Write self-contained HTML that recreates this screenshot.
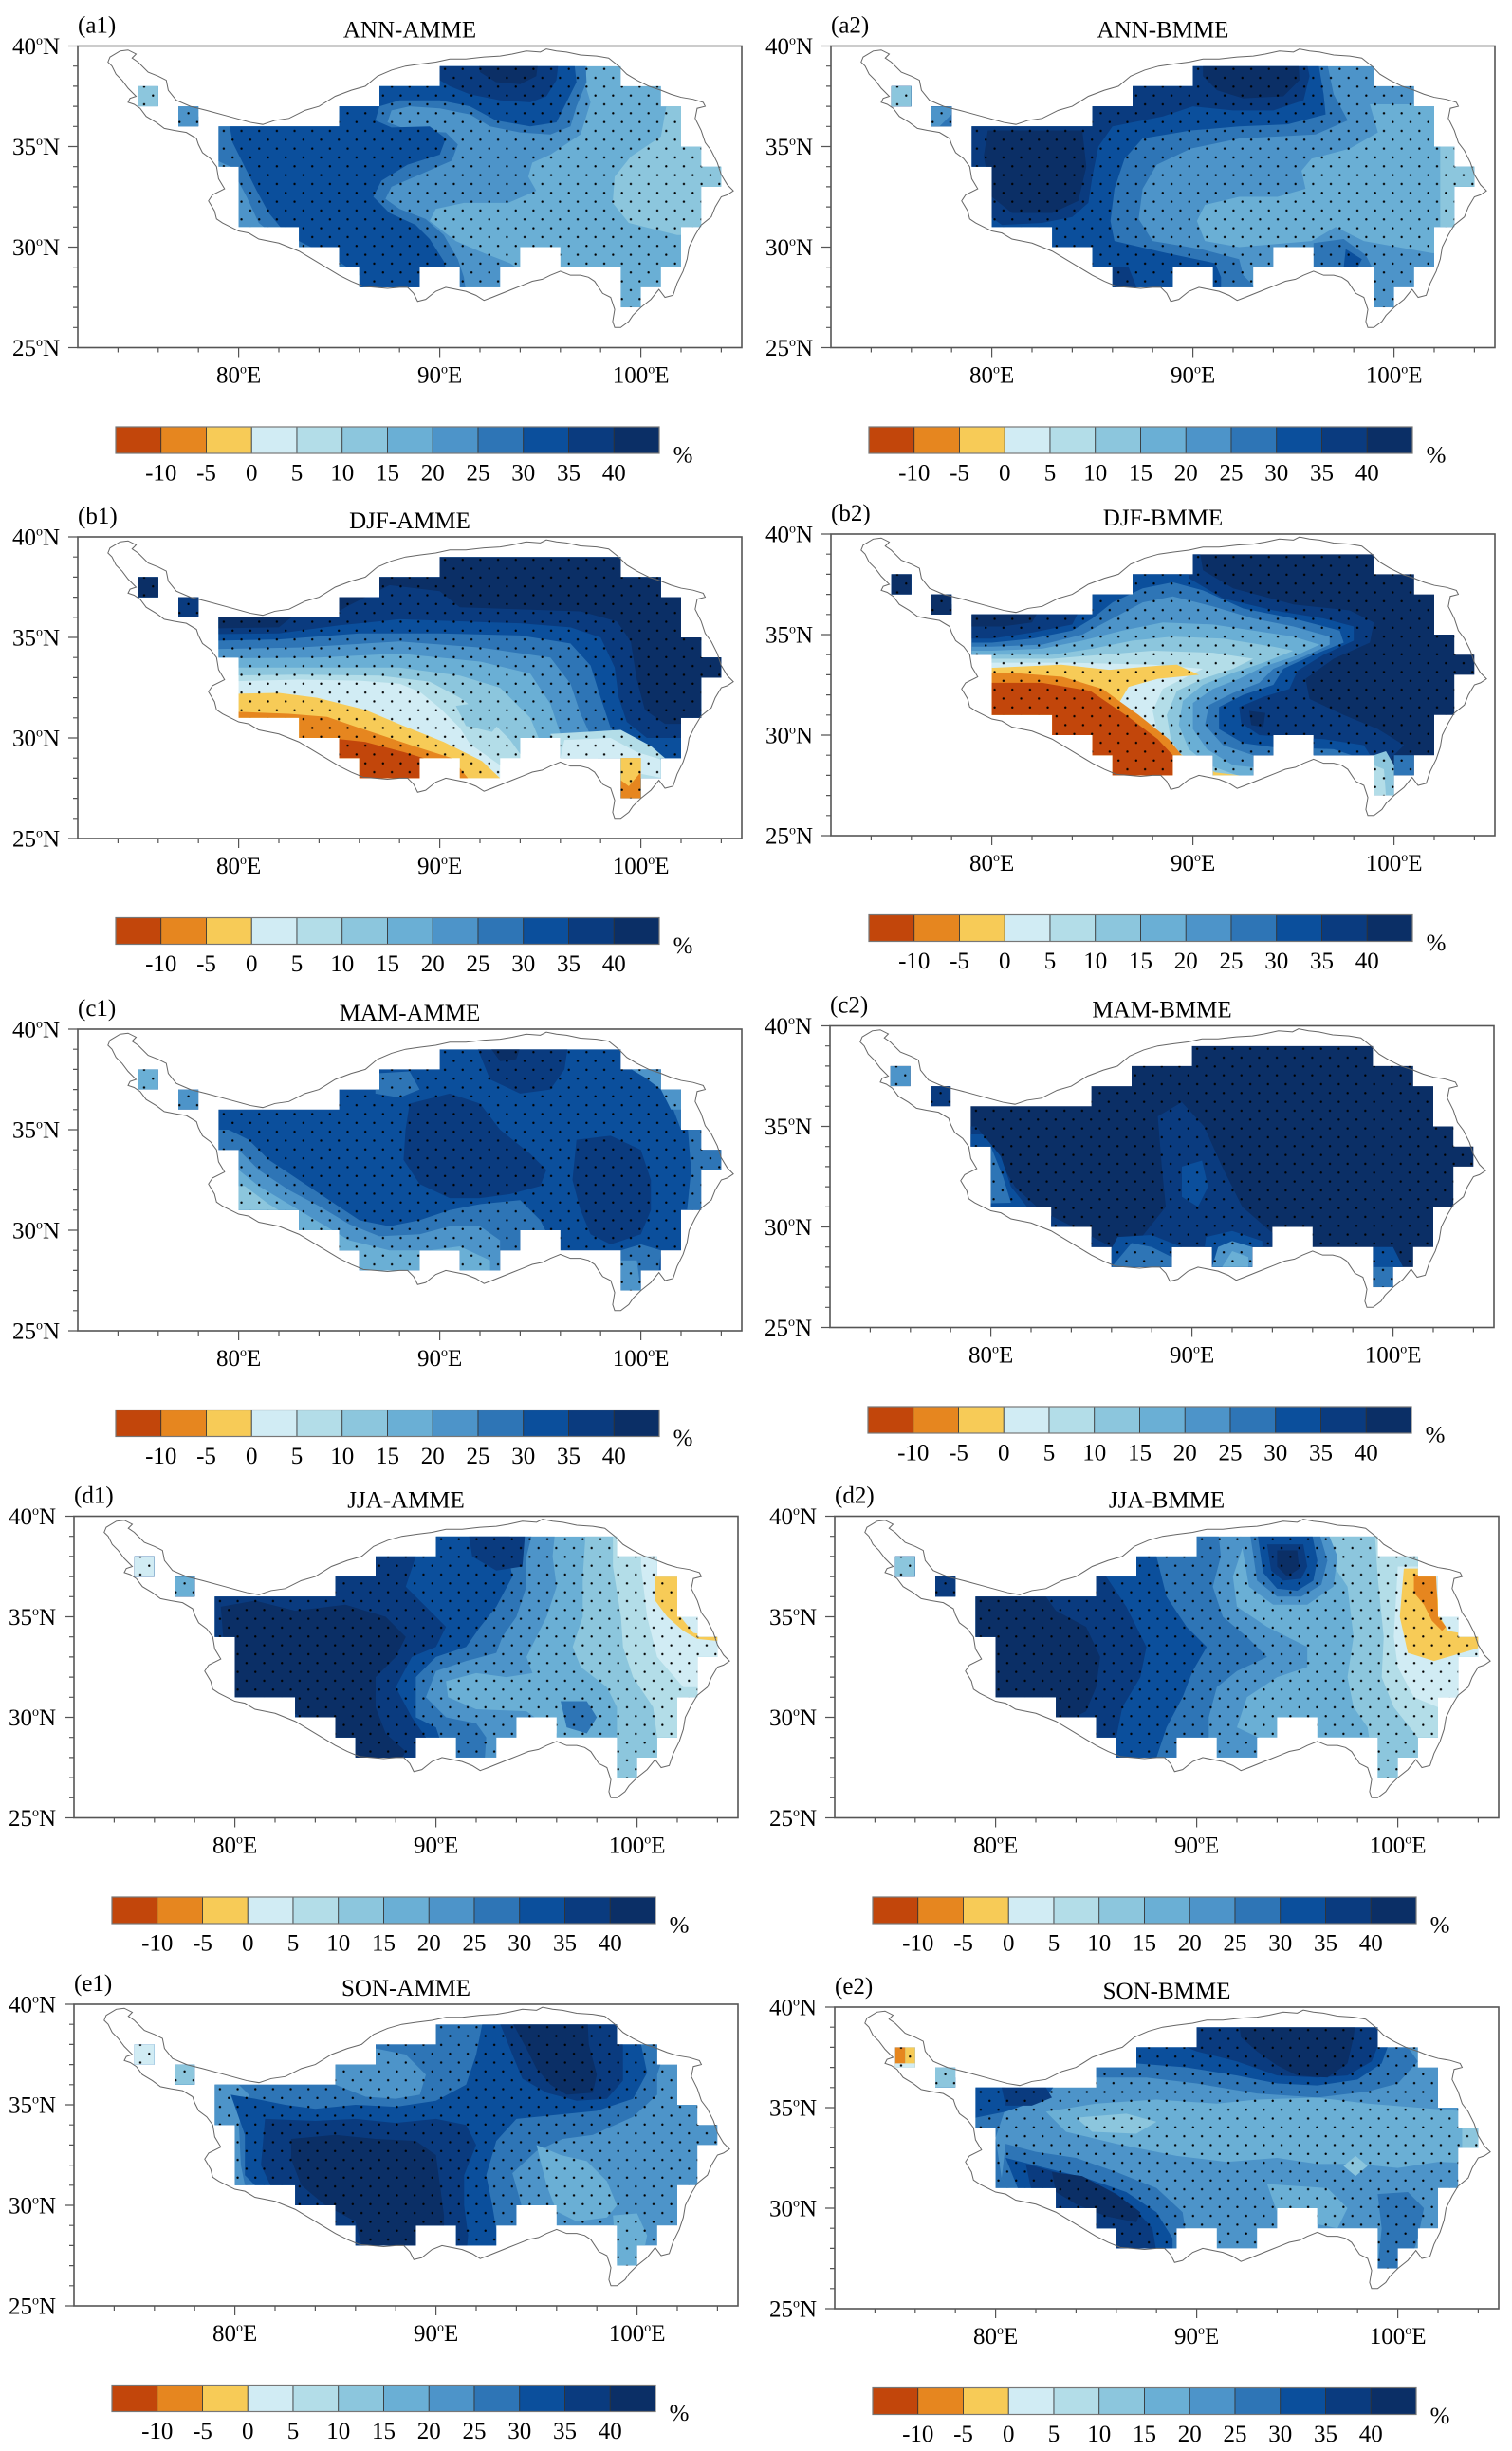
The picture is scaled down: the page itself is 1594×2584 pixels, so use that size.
<!DOCTYPE html>
<html><head><meta charset="utf-8"><title>Precipitation change maps</title><style>
html,body{margin:0;padding:0;background:#fff}
svg{display:block}
.t{font-family:"Liberation Serif","Times New Roman",serif;font-size:25px;fill:#000}
.s{font-size:14px}
.k1{fill:#c2460b}.k2{fill:#e6861f}.k3{fill:#f7cb57}.k4{fill:#d1ecf4}.k5{fill:#b3dde8}.k6{fill:#8cc6dd}.k7{fill:#6aafd5}.k8{fill:#4d94c9}.k9{fill:#2e75b6}.k10{fill:#0b4f9c}.k11{fill:#0a3b7f}.k12{fill:#0b2f66}
</style></head><body>
<svg width="1594" height="2584" viewBox="0 0 1594 2584" xmlns="http://www.w3.org/2000/svg" xmlns:xlink="http://www.w3.org/1999/xlink">
<rect width="1594" height="2584" fill="#fff"/>
<defs>
<clipPath id="m"><path d="M90,39 H99 V38 H101 V37 H102 V35 H103 V34 H104 V33 H103 V31 H102 V29 H101 V28 H100 V27 H99 V29 H96 V30 H94 V29 H93 V28 H91 V29 H89 V28 H86 V29 H85 V30 H83 V31 H80 V34 H79 V36 H85 V37 H87 V38 H90 Z M75,37 H76 V38 H75 Z M77,36 H78 V37 H77 Z"/></clipPath>
<pattern id="dots" patternUnits="userSpaceOnUse" x="72" y="25" width="0.88" height="0.88"><circle cx="0.22" cy="0.22" r="0.056" fill="#000"/><circle cx="0.66" cy="0.66" r="0.056" fill="#000"/></pattern>
<path id="ol" fill="none" stroke="#666" stroke-width="1" vector-effect="non-scaling-stroke" d="M73.6,39.45 L74.1,39.75 74.5,39.8 74.9,39.6 74.7,39.4 75.0,39.2 75.5,38.7 76.0,38.5 76.4,38.3 76.5,37.8 76.9,37.3 77.6,37.0 78.4,36.8 79.5,36.5 80.6,36.2 81.2,36.1 81.8,36.3 82.5,36.4 83.3,36.8 84.0,37.0 84.8,37.5 85.6,37.8 86.3,38.0 86.9,38.5 87.6,38.8 88.3,39.0 89.0,39.1 89.8,39.2 90.5,39.35 91.3,39.35 92.2,39.45 93.0,39.5 93.6,39.6 94.3,39.75 95.0,39.7 95.3,39.85 95.8,39.75 96.3,39.7 97.0,39.55 97.8,39.5 98.4,39.4 98.9,39.0 99.3,38.6 99.8,38.3 100.4,38.0 101.0,37.8 101.5,37.6 102.0,37.45 102.6,37.35 103.1,37.2 103.2,37.0 102.8,36.9 102.7,36.4 103.0,35.8 103.2,35.2 103.5,34.8 103.8,34.2 104.0,33.6 104.3,33.1 104.6,32.8 104.3,32.6 104.0,32.5 103.7,32.0 103.5,31.5 103.0,31.1 102.7,30.6 102.4,30.0 102.3,29.4 102.1,28.8 101.8,28.2 101.6,27.6 101.2,27.5 100.9,27.9 100.5,27.4 100.0,27.0 99.6,26.6 99.4,26.3 99.0,26.0 98.7,26.0 98.6,26.3 98.7,26.9 98.5,27.5 98.1,27.7 97.7,28.3 97.4,28.5 97.0,28.6 96.5,28.6 96.0,28.8 95.5,28.6 95.1,28.4 94.6,28.3 94.1,28.1 93.6,27.9 93.1,27.7 92.6,27.5 92.2,27.35 91.8,27.6 91.3,27.8 90.8,27.9 90.3,28.0 89.8,27.8 89.3,27.4 88.9,27.3 88.7,27.7 88.4,28.0 88.0,28.0 87.4,27.95 86.8,28.0 86.2,28.05 85.6,28.3 85.0,28.6 84.5,28.9 84.0,29.2 83.5,29.5 83.0,29.8 82.5,30.0 82.0,30.2 81.5,30.3 81.0,30.4 80.5,30.7 80.0,30.8 79.6,31.0 79.2,31.2 78.9,31.4 78.8,31.8 78.5,32.3 78.7,32.6 79.3,32.9 79.0,33.4 78.9,34.0 78.6,34.4 78.2,34.7 78.0,35.1 77.9,35.4 77.4,35.7 76.8,35.8 76.3,35.9 75.9,36.2 75.4,36.5 75.1,36.9 74.8,37.1 74.5,37.2 74.6,37.4 74.9,37.5 74.5,37.9 74.2,38.3 73.9,38.6 73.7,39.0 73.5,39.2 Z"/>
<g id="ax">
<rect x="0" y="0" width="700" height="318" fill="none" stroke="#555" stroke-width="1.6"/>
<path fill="none" stroke="#555" stroke-width="1.2" d="M-10,0H0 M-10,106H0 M-10,212H0 M-10,318H0 M-5,21.2H0 M-5,42.4H0 M-5,63.6H0 M-5,84.8H0 M-5,127.2H0 M-5,148.4H0 M-5,169.6H0 M-5,190.8H0 M-5,233.2H0 M-5,254.4H0 M-5,275.6H0 M-5,296.8H0 M169.6,318V328 M381.6,318V328 M593.6,318V328 M42.4,318V323 M84.8,318V323 M127.2,318V323 M212,318V323 M254.4,318V323 M296.8,318V323 M339.2,318V323 M424,318V323 M466.4,318V323 M508.8,318V323 M551.2,318V323 M636,318V323 M678.4,318V323"/>
<g stroke="#333" stroke-width="0.8">
<rect x="40" y="401.5" width="47.75" height="28" class="k1"/>
<rect x="87.75" y="401.5" width="47.75" height="28" class="k2"/>
<rect x="135.5" y="401.5" width="47.75" height="28" class="k3"/>
<rect x="183.25" y="401.5" width="47.75" height="28" class="k4"/>
<rect x="231" y="401.5" width="47.75" height="28" class="k5"/>
<rect x="278.75" y="401.5" width="47.75" height="28" class="k6"/>
<rect x="326.5" y="401.5" width="47.75" height="28" class="k7"/>
<rect x="374.25" y="401.5" width="47.75" height="28" class="k8"/>
<rect x="422" y="401.5" width="47.75" height="28" class="k9"/>
<rect x="469.75" y="401.5" width="47.75" height="28" class="k10"/>
<rect x="517.5" y="401.5" width="47.75" height="28" class="k11"/>
<rect x="565.25" y="401.5" width="47.75" height="28" class="k12"/>
</g>
<rect x="40" y="401.5" width="573" height="28" fill="none" stroke="#777" stroke-width="1.2"/>
</g>
</defs>

<!-- ================= a1 ================= -->
<g transform="translate(82,48.5)">
<g transform="scale(21.2,-21.2) translate(-72,-40)">
<g clip-path="url(#m)">
<rect x="72" y="25" width="33" height="15" class="k7"/>
<polygon class="k6" points="101.3,37.2 101.0,35.5 99.5,34.5 98.7,33.5 98.6,32.2 99.4,31.2 101.8,30.6 105,30.6 105,37.2"/>
<polygon class="k8" points="72,40 97.5,40 97.2,38.2 97.5,37.2 97.0,35.6 95.5,34.6 94.6,34.2 94.4,33.5 94.8,32.8 93.4,32.2 91.2,32.2 89.8,31.9 89.5,31.3 90.8,30.3 92.2,29.7 93.5,29.2 94.5,28.5 94.5,26 72,26"/>
<polygon class="k9" points="72,36.5 85,36.5 85,37.5 87,37.5 87,38.8 90,38.8 90,40 97.2,40 97.3,38.2 96.8,37.0 96.5,36.0 95.5,35.6 94.0,35.7 92.5,36.0 91.5,36.6 90,36.9 88.5,37.0 87.6,36.8 87.4,36.2 88.5,35.8 90.3,35.7 90.9,35.1 90.6,34.3 89.0,33.6 87.6,33.0 87.3,32.4 88.0,31.9 89.3,31.4 90.2,30.6 90.9,29.4 91.2,28.5 91.5,26.5 85.5,26.5 85.2,28.8 83.5,29.6 82.0,30.4 81.0,31.2 80.4,32.5 79.6,34.0 78.5,34.5 72,34.5"/>
<polygon class="k10" points="79.5,36.3 85,36.3 85,37.2 87,37.2 87,38.5 90,38.5 90,40 96.6,40 96.8,38.2 96.2,37.0 95.8,36.2 94.5,36.0 92.8,36.3 91.5,37.0 90,37.3 88,37.3 87.0,37.0 86.8,36.3 87.6,35.95 89.5,36.0 90.3,35.4 90.0,34.6 88.4,34.1 87.1,33.3 86.7,32.5 87.5,31.7 88.8,31.1 89.5,30.4 90.2,29.3 90.4,28.6 90.4,26 86.3,26 86.0,28.6 84.8,29.4 83.6,30.0 82.4,30.6 81.5,31.7 80.9,32.8 80.3,34.0 79.7,35.2"/>
<polygon class="k11" points="90,40 96,40 95.8,38.3 95.3,37.5 94.5,37.2 93,37.3 91.5,37.6 90.5,38.0 90,38.3"/>
<polygon class="k12" points="91.8,40 95,40 94.8,38.5 94,38.1 92.8,38.2 92,38.7"/>
<rect x="75" y="37" width="1" height="1" class="k6"/>
<rect x="77" y="36" width="1" height="1" class="k8"/>
<rect x="72" y="25" width="33" height="15" fill="url(#dots)"/>
</g>
<use xlink:href="#ol" href="#ol"/>
</g>
<use xlink:href="#ax" href="#ax"/>
<text class="t" x="0" y="-14">(a1)</text>
<text class="t" x="350" y="-9" text-anchor="middle">ANN-AMME</text>
<text class="t" text-anchor="end"><tspan x="-19" y="8.5">40</tspan><tspan class="s" dy="-10">o</tspan><tspan dy="10">N</tspan></text>
<text class="t" text-anchor="end"><tspan x="-19" y="114.5">35</tspan><tspan class="s" dy="-10">o</tspan><tspan dy="10">N</tspan></text>
<text class="t" text-anchor="end"><tspan x="-19" y="220.5">30</tspan><tspan class="s" dy="-10">o</tspan><tspan dy="10">N</tspan></text>
<text class="t" text-anchor="end"><tspan x="-19" y="326.5">25</tspan><tspan class="s" dy="-10">o</tspan><tspan dy="10">N</tspan></text>
<text class="t" text-anchor="middle"><tspan x="169.6" y="355">80</tspan><tspan class="s" dy="-10">o</tspan><tspan dy="10">E</tspan></text>
<text class="t" text-anchor="middle"><tspan x="381.6" y="355">90</tspan><tspan class="s" dy="-10">o</tspan><tspan dy="10">E</tspan></text>
<text class="t" text-anchor="middle"><tspan x="593.6" y="355">100</tspan><tspan class="s" dy="-10">o</tspan><tspan dy="10">E</tspan></text>
<text class="t" y="458" text-anchor="middle"><tspan x="87.75">-10</tspan><tspan x="135.5">-5</tspan><tspan x="183.25">0</tspan><tspan x="231">5</tspan><tspan x="278.75">10</tspan><tspan x="326.5">15</tspan><tspan x="374.25">20</tspan><tspan x="422">25</tspan><tspan x="469.75">30</tspan><tspan x="517.5">35</tspan><tspan x="565.25">40</tspan></text>
<text class="t" x="638" y="439" text-anchor="middle">%</text>
</g>

<!-- ================= a2 ================= -->
<g transform="translate(876,48.5)">
<g transform="scale(21.2,-21.2) translate(-72,-40)">
<g clip-path="url(#m)">
<rect x="72" y="25" width="33" height="15" class="k8"/>
<polygon class="k7" points="98.8,37.1 99.2,35.7 97.8,34.9 95.9,34.4 95.4,33.8 95.6,32.9 94.2,32.5 92.3,32.5 90.6,32.1 90.2,31.3 90.6,30.3 92.3,30.0 95.9,30.3 97.1,31.0 98.5,30.3 101.9,29.7 105,29.7 105,37.1"/>
<polygon class="k6" points="102.3,35.5 102.3,31 105,31 105,35.5"/>
<polygon class="k9" points="96,30.2 97.5,30.4 98.6,29.6 98.9,29 96,29"/>
<polygon class="k10" points="97.6,29.9 98.4,29.4 98.2,29 97.5,29"/>
<polygon class="k9" points="72,40 96.5,40 97.0,37.6 97.7,36.3 96.1,35.6 92.3,35.4 89.9,34.9 88.2,34.1 87.5,32.9 87.3,31.4 88.0,30.3 90.4,29.9 92.3,29.4 92.5,28.6 93.3,27.8 93.3,26 72,26"/>
<polygon class="k10" points="72,40 96.1,40 96.5,37.6 96.6,36.6 94.7,36.1 92.3,36.0 89.9,35.8 87.5,35.4 86.6,34.4 86.1,32.9 85.9,31.3 86.1,30.3 88.7,29.7 91.1,29.2 91.4,28.5 91.4,26 72,26"/>
<polygon class="k11" points="72,40 95.5,40 95.8,38.5 95.5,37.3 94,36.8 92,36.8 90,37.0 88.5,36.5 86,36.0 85.3,35.0 85.0,33.5 84.8,32.2 84.0,31.5 82.5,31.2 80.5,31.1 79.8,31.6 72,31.6"/>
<polygon class="k11" points="86,28 86,29 86.8,29 87.2,28"/>
<polygon class="k12" points="79.8,35.8 84.5,35.8 84.7,34 84.3,32.3 83,31.7 81,31.7 80,32.5 79.6,34.5"/>
<polygon class="k12" points="90.5,40 95.2,40 95.3,38.3 94.5,37.5 92.5,37.4 91.2,37.8 90.5,38.5"/>
<rect x="75" y="37" width="1" height="1" class="k6"/>
<rect x="77" y="36" width="1" height="1" class="k8"/>
<polygon class="k9" points="78,36 78,36.6 77.4,36"/>
<rect x="72" y="25" width="33" height="15" fill="url(#dots)"/>
</g>
<use xlink:href="#ol" href="#ol"/>
</g>
<use xlink:href="#ax" href="#ax"/>
<text class="t" x="0" y="-14">(a2)</text>
<text class="t" x="350" y="-9" text-anchor="middle">ANN-BMME</text>
<text class="t" text-anchor="end"><tspan x="-19" y="8.5">40</tspan><tspan class="s" dy="-10">o</tspan><tspan dy="10">N</tspan></text>
<text class="t" text-anchor="end"><tspan x="-19" y="114.5">35</tspan><tspan class="s" dy="-10">o</tspan><tspan dy="10">N</tspan></text>
<text class="t" text-anchor="end"><tspan x="-19" y="220.5">30</tspan><tspan class="s" dy="-10">o</tspan><tspan dy="10">N</tspan></text>
<text class="t" text-anchor="end"><tspan x="-19" y="326.5">25</tspan><tspan class="s" dy="-10">o</tspan><tspan dy="10">N</tspan></text>
<text class="t" text-anchor="middle"><tspan x="169.6" y="355">80</tspan><tspan class="s" dy="-10">o</tspan><tspan dy="10">E</tspan></text>
<text class="t" text-anchor="middle"><tspan x="381.6" y="355">90</tspan><tspan class="s" dy="-10">o</tspan><tspan dy="10">E</tspan></text>
<text class="t" text-anchor="middle"><tspan x="593.6" y="355">100</tspan><tspan class="s" dy="-10">o</tspan><tspan dy="10">E</tspan></text>
<text class="t" y="458" text-anchor="middle"><tspan x="87.75">-10</tspan><tspan x="135.5">-5</tspan><tspan x="183.25">0</tspan><tspan x="231">5</tspan><tspan x="278.75">10</tspan><tspan x="326.5">15</tspan><tspan x="374.25">20</tspan><tspan x="422">25</tspan><tspan x="469.75">30</tspan><tspan x="517.5">35</tspan><tspan x="565.25">40</tspan></text>
<text class="t" x="638" y="439" text-anchor="middle">%</text>
</g>

<!-- ================= b1 ================= -->
<g transform="translate(82,566)">
<g transform="scale(21.2,-21.2) translate(-72,-40)">
<g clip-path="url(#m)">
<rect x="72" y="25" width="33" height="15" class="k4"/>
<polygon class="k5" points="72,32.8 79,32.8 83,32.9 86,32.85 88,32.7 89,32.3 90,31.5 91,30.5 91.5,29.7 92.5,29 93.5,28.3 94.5,26 105,26 105,40 72,40"/>
<polygon class="k6" points="72,33.1 79,33.1 83,33.15 87,33.1 89.5,32.8 91,32.0 92.5,30.9 93.5,29.9 94.5,28.5 95,26 105,26 105,40 72,40"/>
<polygon class="k7" points="72,33.5 84,33.5 88,33.5 91,33.1 93,32.5 94.5,31 95,29.8 96,26 105,26 105,40 72,40"/>
<polygon class="k8" points="72,33.9 84,34.0 88,34.2 92,33.8 94.5,33.2 95.5,31.7 96,30.2 96.5,26 105,26 105,40 72,40"/>
<polygon class="k9" points="72,34.3 83,34.5 88,34.8 92,34.5 95.5,34.0 96.5,32.7 97,31.2 97.7,29.7 98.5,26 105,26 105,40 72,40"/>
<polygon class="k10" points="72,34.7 82,34.9 86,35.2 90,35.2 94,35.1 96.5,34.7 97.5,33.6 98,32 98.5,30.5 99.6,29.3 99.6,26 105,26 105,40 72,40"/>
<polygon class="k11" points="72,35.1 82,35.2 85,35.6 88,35.9 91,35.8 94,35.7 96.5,35.5 98,35 98.7,33.5 98.9,32 99.3,30.8 100.3,30.0 105,30 105,40 72,40"/>
<polygon class="k12" points="72,36.2 84.8,36.2 85.5,36.6 87.5,37.6 90,37.3 91,36.5 94,36.4 97,36.3 98.8,35.8 99.5,34.8 99.8,32.9 100.2,31.4 101.2,30.7 105,30.7 105,40 72,40"/>
<polygon class="k12" points="78.5,36.3 83,36.3 82,35.5 78.5,35.45"/>
<polygon class="k6" points="90.8,31.6 92.2,31.8 93.2,31.0 92.6,30.3 91.3,30.6"/>
<polygon class="k5" points="95.5,30.2 99,30.4 100.5,29.6 101.2,29 101.2,27.8 99,28 96,29"/>
<polygon class="k4" points="96.2,29.9 98.5,30 99.8,29.3 101.1,28.9 101.1,28 96,29"/>
<polygon class="k3" points="72,32.2 80,32.2 82,32.24 83.9,32.0 86.3,31.4 88.2,30.6 90.2,29.8 92.1,28.85 93.0,28 93,26 72,26"/>
<polygon class="k2" points="72,31.3 80,31.3 82.5,31.2 84.4,31.05 86.3,30.4 88.7,29.6 90.6,29.0 91.4,28.0 91.4,26 72,26"/>
<polygon class="k1" points="72,30.05 84.9,29.95 86.3,29.8 88.2,29.3 89.2,29 89.2,26 72,26"/>
<rect x="99" y="27" width="1" height="2" class="k2"/>
<polygon class="k3" points="99,29 100,29 100,28.3 99.4,27.6 99,27.9"/>
<rect x="75" y="37" width="1" height="1" class="k12"/>
<rect x="77" y="36" width="1" height="1" class="k11"/>
<rect x="72" y="25" width="33" height="15" fill="url(#dots)"/>
</g>
<use xlink:href="#ol" href="#ol"/>
</g>
<use xlink:href="#ax" href="#ax"/>
<text class="t" x="0" y="-14">(b1)</text>
<text class="t" x="350" y="-9" text-anchor="middle">DJF-AMME</text>
<text class="t" text-anchor="end"><tspan x="-19" y="8.5">40</tspan><tspan class="s" dy="-10">o</tspan><tspan dy="10">N</tspan></text>
<text class="t" text-anchor="end"><tspan x="-19" y="114.5">35</tspan><tspan class="s" dy="-10">o</tspan><tspan dy="10">N</tspan></text>
<text class="t" text-anchor="end"><tspan x="-19" y="220.5">30</tspan><tspan class="s" dy="-10">o</tspan><tspan dy="10">N</tspan></text>
<text class="t" text-anchor="end"><tspan x="-19" y="326.5">25</tspan><tspan class="s" dy="-10">o</tspan><tspan dy="10">N</tspan></text>
<text class="t" text-anchor="middle"><tspan x="169.6" y="355">80</tspan><tspan class="s" dy="-10">o</tspan><tspan dy="10">E</tspan></text>
<text class="t" text-anchor="middle"><tspan x="381.6" y="355">90</tspan><tspan class="s" dy="-10">o</tspan><tspan dy="10">E</tspan></text>
<text class="t" text-anchor="middle"><tspan x="593.6" y="355">100</tspan><tspan class="s" dy="-10">o</tspan><tspan dy="10">E</tspan></text>
<text class="t" y="458" text-anchor="middle"><tspan x="87.75">-10</tspan><tspan x="135.5">-5</tspan><tspan x="183.25">0</tspan><tspan x="231">5</tspan><tspan x="278.75">10</tspan><tspan x="326.5">15</tspan><tspan x="374.25">20</tspan><tspan x="422">25</tspan><tspan x="469.75">30</tspan><tspan x="517.5">35</tspan><tspan x="565.25">40</tspan></text>
<text class="t" x="638" y="439" text-anchor="middle">%</text>
</g>

<!-- ================= b2 ================= -->
<g transform="translate(876,563)">
<g transform="scale(21.2,-21.2) translate(-72,-40)">
<g clip-path="url(#m)">
<rect x="72" y="25" width="33" height="15" class="k12"/>
<polygon class="k11" points="72,40 72,26 99.5,26 99.5,28.5 100.5,29.5 99.2,30.3 97.5,31.0 95.8,31.8 95.6,32.8 97,33.8 98.8,34.6 99,35.6 97.8,36.2 95,36.5 92,37.3 90.5,38.2 90.2,40"/>
<polygon class="k10" points="72,40 72,26 99,26 99,28.7 98.5,29.5 96.5,29.8 94.8,29.9 93.3,30.0 92.4,30.6 92.3,31.4 93.5,31.9 94.8,32.3 95.2,33.2 96.5,34 98,34.7 98,35.4 96.5,35.8 94,36.2 91.5,36.8 89.8,37.8 89.5,40"/>
<polygon class="k12" points="92.8,31.2 93.6,31.1 93.5,30.4 92.9,30.5"/>
<polygon class="k9" points="72,34.6 80,34.6 82,34.8 84,35.2 85,35.8 86,36.6 87.5,37.3 89,37.6 90.5,37.2 92.5,36.3 95,35.8 97.3,35.2 97.5,34.6 96,34 94.5,33.3 94,32.5 92.5,32.0 91.3,31.4 91.3,30.3 92.5,29.6 94,29.4 97,29.3 98.5,28.8 98.8,26 72,26"/>
<polygon class="k8" points="72,34.4 80,34.4 82.5,34.5 84.5,35.0 86,35.8 87.5,36.6 89,36.9 91,36.4 93,35.8 95,35.4 96.8,34.9 96.8,34.5 95.5,33.9 94,33.3 93.3,32.6 92,32.1 90.8,31.5 90.6,30.5 91.5,29.5 93,29.0 95,28.9 98,28.5 98.3,26 72,26"/>
<polygon class="k7" points="72,34.2 80,34.2 82.5,34.3 84.5,34.7 86.5,35.2 88.5,35.6 91,35.5 93,35.2 95,34.9 96.3,34.5 95,33.9 93.5,33.4 92.3,32.8 91,32.3 90,31.6 90,30.3 90.7,29.3 92,28.5 94,28.3 98,28 98,26 72,26"/>
<polygon class="k6" points="72,34.0 83,34.0 85,34.3 87,34.7 89,34.9 91.5,34.8 94,34.4 95,34.2 93.5,33.6 92,33.1 90.5,32.5 89.5,31.7 89.3,30.5 89.8,29.3 90.8,28.5 92.5,27.9 97.8,27.5 97.8,26 72,26"/>
<polygon class="k5" points="72,33.8 83,33.8 85.5,34.0 88,34.2 91,34.1 93,33.8 92,33.3 90.5,32.8 89.2,32.2 88.7,31 88.9,29.8 89.5,28.8 90.8,28.1 91.5,26 72,26"/>
<polygon class="k4" points="72,33.6 84,33.6 88,33.5 90.5,33.3 89.5,32.8 88.5,32.3 88,31.2 88.3,29.8 89,28.6 90,28 90.5,26 72,26"/>
<polygon class="k3" points="72,33.35 80.1,33.35 83.45,33.5 85.85,33.25 88.25,33.45 89.2,33.5 90.3,33.0 88.25,32.8 86.8,32.4 86.3,31.55 87.3,30.45 88.7,29.34 90.2,28.7 91.1,28.15 92.3,28.0 92.3,26 72,26"/>
<polygon class="k2" points="72,33.1 81,33.1 83.5,32.9 85.5,32.3 87.3,31.0 88.8,29.8 89.6,28.8 89.8,26 72,26"/>
<polygon class="k1" points="72,32.6 82.5,32.6 84.9,32.2 86.8,30.9 88.25,29.8 89,29.0 89,26 72,26"/>
<polygon class="k11" points="72,36.5 84.5,36.5 84,35.5 82,35.1 80,34.8 72,34.8"/>
<polygon class="k12" points="72,36.5 82.5,36.5 82,35.6 80.5,35.4 72,35.4"/>
<rect x="100" y="28" width="1" height="1" class="k9"/>
<polygon class="k6" points="99,29 99.6,29.2 100,28.5 100,27 99,27"/>
<polygon class="k5" points="99,28.5 99.5,28.3 99.6,27 99,27"/>
<rect x="75" y="37" width="1" height="1" class="k12"/>
<rect x="77" y="36" width="1" height="1" class="k12"/>
<rect x="72" y="25" width="33" height="15" fill="url(#dots)"/>
</g>
<use xlink:href="#ol" href="#ol"/>
</g>
<use xlink:href="#ax" href="#ax"/>
<text class="t" x="0" y="-14">(b2)</text>
<text class="t" x="350" y="-9" text-anchor="middle">DJF-BMME</text>
<text class="t" text-anchor="end"><tspan x="-19" y="8.5">40</tspan><tspan class="s" dy="-10">o</tspan><tspan dy="10">N</tspan></text>
<text class="t" text-anchor="end"><tspan x="-19" y="114.5">35</tspan><tspan class="s" dy="-10">o</tspan><tspan dy="10">N</tspan></text>
<text class="t" text-anchor="end"><tspan x="-19" y="220.5">30</tspan><tspan class="s" dy="-10">o</tspan><tspan dy="10">N</tspan></text>
<text class="t" text-anchor="end"><tspan x="-19" y="326.5">25</tspan><tspan class="s" dy="-10">o</tspan><tspan dy="10">N</tspan></text>
<text class="t" text-anchor="middle"><tspan x="169.6" y="355">80</tspan><tspan class="s" dy="-10">o</tspan><tspan dy="10">E</tspan></text>
<text class="t" text-anchor="middle"><tspan x="381.6" y="355">90</tspan><tspan class="s" dy="-10">o</tspan><tspan dy="10">E</tspan></text>
<text class="t" text-anchor="middle"><tspan x="593.6" y="355">100</tspan><tspan class="s" dy="-10">o</tspan><tspan dy="10">E</tspan></text>
<text class="t" y="458" text-anchor="middle"><tspan x="87.75">-10</tspan><tspan x="135.5">-5</tspan><tspan x="183.25">0</tspan><tspan x="231">5</tspan><tspan x="278.75">10</tspan><tspan x="326.5">15</tspan><tspan x="374.25">20</tspan><tspan x="422">25</tspan><tspan x="469.75">30</tspan><tspan x="517.5">35</tspan><tspan x="565.25">40</tspan></text>
<text class="t" x="638" y="439" text-anchor="middle">%</text>
</g>

<!-- ================= c1 ================= -->
<g transform="translate(82,1085)">
<g transform="scale(21.2,-21.2) translate(-72,-40)">
<g clip-path="url(#m)">
<rect x="72" y="25" width="33" height="15" class="k10"/>
<polygon class="k9" points="72,35 79.5,35 80.5,34.5 81.5,33.5 83,32.5 84.5,31.5 86,30.5 87.5,30.2 89,30.5 90.5,31 92,31.3 94,31.5 95,30.5 95.5,29.5 95.5,26 72,26"/>
<polygon class="k8" points="72,34 80,34 81,33 82.5,32 84,31.2 85.5,30.3 87,29.7 89,29.8 90.5,30.2 92,30.2 93,29.5 93,26 72,26"/>
<polygon class="k7" points="72,33 80,33 81,32.2 82.5,31.3 84,30.4 85.5,29.5 87.5,29 89.5,29 91,29.2 92.5,28.5 92.5,26 72,26"/>
<polygon class="k6" points="72,32.2 80.3,32.2 81.5,31.3 82.3,30.8 82.3,26 72,26"/>
<polygon class="k9" points="101.3,38 101.5,36.5 102.3,35.5 102.5,33 102.3,31 105,31 105,38"/>
<polygon class="k9" points="96.8,40 99.5,40 99.8,38 101,37.5 101.5,36.3 102,35 105,35 105,40"/>
<polygon class="k8" points="98.8,40 99.2,38.2 100.2,37.6 101,37 101.5,36 105,36 105,40"/>
<polygon class="k9" points="86.8,37.8 88.5,37.9 89,37 88,36.6 86.8,36.8"/>
<polygon class="k9" points="99,29 100,29.3 101,29 100.8,27 99,27"/>
<polygon class="k8" points="99,28.5 99.8,28.5 100,27 99,27"/>
<polygon class="k11" points="88.5,36.3 90.5,36.8 92,36.3 93,35 94.5,33.8 95.3,33 95,32.2 93.5,31.8 92,31.6 90.5,31.6 89,32.3 88.2,33.5 88.3,35"/>
<polygon class="k11" points="96.8,34.5 98.5,34.7 100,34 100.5,32.5 100.5,31 100,29.8 98.5,29.3 97.5,29.8 97,31 96.6,32.5"/>
<polygon class="k11" points="91.5,40 96.5,40 96.2,38 95.5,37 94,36.8 92.5,37.5"/>
<polygon class="k12" points="92.5,39.1 94,39.1 93.8,38.5 93,38.4"/>
<rect x="75" y="37" width="1" height="1" class="k7"/>
<rect x="77" y="36" width="1" height="1" class="k8"/>
<rect x="72" y="25" width="33" height="15" fill="url(#dots)"/>
</g>
<use xlink:href="#ol" href="#ol"/>
</g>
<use xlink:href="#ax" href="#ax"/>
<text class="t" x="0" y="-14">(c1)</text>
<text class="t" x="350" y="-9" text-anchor="middle">MAM-AMME</text>
<text class="t" text-anchor="end"><tspan x="-19" y="8.5">40</tspan><tspan class="s" dy="-10">o</tspan><tspan dy="10">N</tspan></text>
<text class="t" text-anchor="end"><tspan x="-19" y="114.5">35</tspan><tspan class="s" dy="-10">o</tspan><tspan dy="10">N</tspan></text>
<text class="t" text-anchor="end"><tspan x="-19" y="220.5">30</tspan><tspan class="s" dy="-10">o</tspan><tspan dy="10">N</tspan></text>
<text class="t" text-anchor="end"><tspan x="-19" y="326.5">25</tspan><tspan class="s" dy="-10">o</tspan><tspan dy="10">N</tspan></text>
<text class="t" text-anchor="middle"><tspan x="169.6" y="355">80</tspan><tspan class="s" dy="-10">o</tspan><tspan dy="10">E</tspan></text>
<text class="t" text-anchor="middle"><tspan x="381.6" y="355">90</tspan><tspan class="s" dy="-10">o</tspan><tspan dy="10">E</tspan></text>
<text class="t" text-anchor="middle"><tspan x="593.6" y="355">100</tspan><tspan class="s" dy="-10">o</tspan><tspan dy="10">E</tspan></text>
<text class="t" y="458" text-anchor="middle"><tspan x="87.75">-10</tspan><tspan x="135.5">-5</tspan><tspan x="183.25">0</tspan><tspan x="231">5</tspan><tspan x="278.75">10</tspan><tspan x="326.5">15</tspan><tspan x="374.25">20</tspan><tspan x="422">25</tspan><tspan x="469.75">30</tspan><tspan x="517.5">35</tspan><tspan x="565.25">40</tspan></text>
<text class="t" x="638" y="439" text-anchor="middle">%</text>
</g>

<!-- ================= c2 ================= -->
<g transform="translate(875,1081.5)">
<g transform="scale(21.2,-21.2) translate(-72,-40)">
<g clip-path="url(#m)">
<rect x="72" y="25" width="33" height="15" class="k12"/>
<polygon class="k11" points="72,35 79.3,35 80.3,33.5 81.2,32 82.5,30.8 84.5,29.8 86,29 87,28 87,26 72,26"/>
<polygon class="k11" points="88.3,35.5 89.5,36.2 90.6,35 91.5,33 92.5,31 94,29.7 94,26 86,26 87.5,29.5 88.7,31 88.5,33"/>
<polygon class="k10" points="72,34.6 79.6,34.6 80.5,33.5 81,32 81.8,31 83,30.2 83,26 72,26"/>
<polygon class="k9" points="72,34 80,34 80.6,32.5 81,31.2 72,31"/>
<polygon class="k10" points="89.5,33 90.5,33.3 90.8,32 90.3,31 89.5,31.5"/>
<polygon class="k10" points="85.5,28 86.3,29.5 88,29.6 89.5,29 89.5,28"/>
<polygon class="k9" points="86,28 87,29.2 88,29 89,28.5 89,28"/>
<polygon class="k10" points="90.5,28 90.7,29.5 92,29.8 93.5,29.3 93.5,28"/>
<polygon class="k8" points="91,28 91.3,29 92,29.3 93,29 93,28"/>
<polygon class="k7" points="91.5,28 92,28.8 92.8,28.5 92.8,28"/>
<polygon class="k10" points="99,27 99,29 100,29 100.5,28 100,27"/>
<polygon class="k9" points="99,27 99,28 100,28 100,27"/>
<rect x="75" y="37" width="1" height="1" class="k8"/>
<rect x="77" y="36" width="1" height="1" class="k11"/>
<rect x="72" y="25" width="33" height="15" fill="url(#dots)"/>
</g>
<use xlink:href="#ol" href="#ol"/>
</g>
<use xlink:href="#ax" href="#ax"/>
<text class="t" x="0" y="-14">(c2)</text>
<text class="t" x="350" y="-9" text-anchor="middle">MAM-BMME</text>
<text class="t" text-anchor="end"><tspan x="-19" y="8.5">40</tspan><tspan class="s" dy="-10">o</tspan><tspan dy="10">N</tspan></text>
<text class="t" text-anchor="end"><tspan x="-19" y="114.5">35</tspan><tspan class="s" dy="-10">o</tspan><tspan dy="10">N</tspan></text>
<text class="t" text-anchor="end"><tspan x="-19" y="220.5">30</tspan><tspan class="s" dy="-10">o</tspan><tspan dy="10">N</tspan></text>
<text class="t" text-anchor="end"><tspan x="-19" y="326.5">25</tspan><tspan class="s" dy="-10">o</tspan><tspan dy="10">N</tspan></text>
<text class="t" text-anchor="middle"><tspan x="169.6" y="355">80</tspan><tspan class="s" dy="-10">o</tspan><tspan dy="10">E</tspan></text>
<text class="t" text-anchor="middle"><tspan x="381.6" y="355">90</tspan><tspan class="s" dy="-10">o</tspan><tspan dy="10">E</tspan></text>
<text class="t" text-anchor="middle"><tspan x="593.6" y="355">100</tspan><tspan class="s" dy="-10">o</tspan><tspan dy="10">E</tspan></text>
<text class="t" y="458" text-anchor="middle"><tspan x="87.75">-10</tspan><tspan x="135.5">-5</tspan><tspan x="183.25">0</tspan><tspan x="231">5</tspan><tspan x="278.75">10</tspan><tspan x="326.5">15</tspan><tspan x="374.25">20</tspan><tspan x="422">25</tspan><tspan x="469.75">30</tspan><tspan x="517.5">35</tspan><tspan x="565.25">40</tspan></text>
<text class="t" x="638" y="439" text-anchor="middle">%</text>
</g>

<!-- ================= d1 ================= -->
<g transform="translate(78,1598.5)">
<g transform="scale(21.2,-21.2) translate(-72,-40)">
<g clip-path="url(#m)">
<rect x="72" y="25" width="33" height="15" class="k7"/>
<polygon class="k6" points="97.5,40 97.3,37 97.3,35 96.8,33.5 97.2,32.5 98.5,31.5 99,30.5 99,26 105,26 105,40"/>
<polygon class="k5" points="98.8,40 98.8,37.5 99.2,35 99.3,33.5 99.8,32 100.8,30.5 101,29 105,29 105,40"/>
<polygon class="k4" points="100.2,40 100.2,37.5 100.5,35 101,33 102.3,31.5 105,31.5 105,40"/>
<polygon class="k3" points="100.9,37 102,37 102,35.2 102.8,34.2 104,34 104,33.8 103,33.9 102.3,34.3 101.5,35.0 100.9,35.8"/>
<polygon class="k8" points="72,40 96,40 95.8,38 96,36.5 95.5,35 95,34 94.5,33 94.8,32.2 93.5,32 92,32.2 90.5,31.8 90.6,31 92,30.4 94.5,30.3 96,29.2 96,28.5 95,26 72,26"/>
<polygon class="k9" points="96.2,30.8 97.5,30.8 98,30 97.5,29.2 96.5,29.5"/>
<polygon class="k9" points="72,40 95,40 94.5,38 94.5,36.5 94,35 93.3,34 93,33.2 91.5,32.8 90,32.3 89.5,31 90.5,30 92,29.7 92.5,29 92.3,26 72,26"/>
<polygon class="k10" points="72,40 94,40 93.5,38.5 93.8,37 93,35.5 92.2,34.5 91.5,33.5 90,33 89,32 89,30 90,29.5 90.5,28 90.5,26 72,26"/>
<polygon class="k11" points="72,40 89.5,40 89,38 88.5,36.5 89.5,35.5 90.5,34.5 90,33.5 88.8,33 88,31.5 88.8,30 89.5,29 89.5,26 72,26"/>
<polygon class="k11" points="91.5,40 94.5,40 94.3,37.5 93,37.3 91.8,38"/>
<polygon class="k12" points="79.3,35.5 81,35.8 83,35.3 85.5,35.6 87.5,35 88.5,34 88,33 87,32 87,30.5 87.5,29.2 88.5,28.3 88,27.5 86,27.5 85,29 83.5,30 82,30.5 80,31 79.5,33"/>
<rect x="75" y="37" width="1" height="1" class="k4"/>
<rect x="77" y="36" width="1" height="1" class="k7"/>
<rect x="72" y="25" width="33" height="15" fill="url(#dots)"/>
</g>
<use xlink:href="#ol" href="#ol"/>
</g>
<use xlink:href="#ax" href="#ax"/>
<text class="t" x="0" y="-14">(d1)</text>
<text class="t" x="350" y="-9" text-anchor="middle">JJA-AMME</text>
<text class="t" text-anchor="end"><tspan x="-19" y="8.5">40</tspan><tspan class="s" dy="-10">o</tspan><tspan dy="10">N</tspan></text>
<text class="t" text-anchor="end"><tspan x="-19" y="114.5">35</tspan><tspan class="s" dy="-10">o</tspan><tspan dy="10">N</tspan></text>
<text class="t" text-anchor="end"><tspan x="-19" y="220.5">30</tspan><tspan class="s" dy="-10">o</tspan><tspan dy="10">N</tspan></text>
<text class="t" text-anchor="end"><tspan x="-19" y="326.5">25</tspan><tspan class="s" dy="-10">o</tspan><tspan dy="10">N</tspan></text>
<text class="t" text-anchor="middle"><tspan x="169.6" y="355">80</tspan><tspan class="s" dy="-10">o</tspan><tspan dy="10">E</tspan></text>
<text class="t" text-anchor="middle"><tspan x="381.6" y="355">90</tspan><tspan class="s" dy="-10">o</tspan><tspan dy="10">E</tspan></text>
<text class="t" text-anchor="middle"><tspan x="593.6" y="355">100</tspan><tspan class="s" dy="-10">o</tspan><tspan dy="10">E</tspan></text>
<text class="t" y="458" text-anchor="middle"><tspan x="87.75">-10</tspan><tspan x="135.5">-5</tspan><tspan x="183.25">0</tspan><tspan x="231">5</tspan><tspan x="278.75">10</tspan><tspan x="326.5">15</tspan><tspan x="374.25">20</tspan><tspan x="422">25</tspan><tspan x="469.75">30</tspan><tspan x="517.5">35</tspan><tspan x="565.25">40</tspan></text>
<text class="t" x="638" y="439" text-anchor="middle">%</text>
</g>

<!-- ================= d2 ================= -->
<g transform="translate(880,1598.5)">
<g transform="scale(21.2,-21.2) translate(-72,-40)">
<g clip-path="url(#m)">
<rect x="72" y="25" width="33" height="15" class="k7"/>
<polygon class="k6" points="96.5,40 96.5,38 97.5,36.5 97.8,34 97.5,32 97.8,30.5 98.5,29.5 99,26 105,26 105,40"/>
<polygon class="k5" points="98.8,40 99,37 99.3,34 99.2,32 99.8,30.5 101,29 105,29 105,40"/>
<polygon class="k4" points="100,37.5 99.8,34 100,32.5 100.8,31 102,30.5 105,30.5 105,37.5"/>
<polygon class="k3" points="100.3,37.4 101.8,37.4 102.1,35 102.5,34.3 104.2,34 104.2,33.5 101.8,32.8 100.5,33.2 100.1,35"/>
<polygon class="k2" points="100.8,37.1 101.9,37.1 102,35 102.4,34.5 102.2,34.3 101.7,34.8 101.3,35.6 100.8,36.2"/>
<polygon class="k8" points="72,40 92,40 92.3,38.5 91.8,37 92,35.5 93.5,34.5 95.5,33.5 95.5,32.5 94,32 92.5,31 92,29.5 93.5,28.8 93.5,26 72,26"/>
<polygon class="k8" points="92,40 96.2,40 97,38 96.8,36.5 95.5,35.6 93.8,35.6 92.6,36.5"/>
<polygon class="k9" points="72,40 91,40 91.2,38 90.8,36.5 91.3,35 92.5,34 93.5,33 92,32.3 91,31.5 90.6,30 90.6,28.5 90.6,26 72,26"/>
<polygon class="k9" points="92.6,39.5 96,39.5 96.5,37.8 96.2,36.6 95.2,36 94,36 93,36.8"/>
<polygon class="k10" points="72,40 88,40 88,38 88.5,36 89.5,34.5 90.5,33.5 89.8,32.3 89.3,31 88.5,29.5 88,28 88,26 72,26"/>
<polygon class="k10" points="93,39.3 95.7,39.3 96,37.8 95.8,36.8 95,36.3 94,36.4 93.3,37.2"/>
<polygon class="k11" points="72,40 86,40 85.5,37 86.5,35.5 87.5,33.5 87.2,32 86.3,30.5 86,29 85.5,26 72,26"/>
<polygon class="k11" points="93.5,38.6 95.3,38.6 95.5,37.5 95.2,36.9 94.3,36.8 93.7,37.3"/>
<polygon class="k12" points="79,36 82.5,36 83,35.3 84.5,34.5 85.2,33 85,31.5 84.5,30.3 83.5,29.8 83,30 80,31 79,31"/>
<polygon class="k12" points="94,38.3 95,38.3 95.1,37.4 94.5,37.0 94,37.5"/>
<rect x="75" y="37" width="1" height="1" class="k6"/>
<rect x="77" y="36" width="1" height="1" class="k11"/>
<rect x="72" y="25" width="33" height="15" fill="url(#dots)"/>
</g>
<use xlink:href="#ol" href="#ol"/>
</g>
<use xlink:href="#ax" href="#ax"/>
<text class="t" x="0" y="-14">(d2)</text>
<text class="t" x="350" y="-9" text-anchor="middle">JJA-BMME</text>
<text class="t" text-anchor="end"><tspan x="-19" y="8.5">40</tspan><tspan class="s" dy="-10">o</tspan><tspan dy="10">N</tspan></text>
<text class="t" text-anchor="end"><tspan x="-19" y="114.5">35</tspan><tspan class="s" dy="-10">o</tspan><tspan dy="10">N</tspan></text>
<text class="t" text-anchor="end"><tspan x="-19" y="220.5">30</tspan><tspan class="s" dy="-10">o</tspan><tspan dy="10">N</tspan></text>
<text class="t" text-anchor="end"><tspan x="-19" y="326.5">25</tspan><tspan class="s" dy="-10">o</tspan><tspan dy="10">N</tspan></text>
<text class="t" text-anchor="middle"><tspan x="169.6" y="355">80</tspan><tspan class="s" dy="-10">o</tspan><tspan dy="10">E</tspan></text>
<text class="t" text-anchor="middle"><tspan x="381.6" y="355">90</tspan><tspan class="s" dy="-10">o</tspan><tspan dy="10">E</tspan></text>
<text class="t" text-anchor="middle"><tspan x="593.6" y="355">100</tspan><tspan class="s" dy="-10">o</tspan><tspan dy="10">E</tspan></text>
<text class="t" y="458" text-anchor="middle"><tspan x="87.75">-10</tspan><tspan x="135.5">-5</tspan><tspan x="183.25">0</tspan><tspan x="231">5</tspan><tspan x="278.75">10</tspan><tspan x="326.5">15</tspan><tspan x="374.25">20</tspan><tspan x="422">25</tspan><tspan x="469.75">30</tspan><tspan x="517.5">35</tspan><tspan x="565.25">40</tspan></text>
<text class="t" x="638" y="439" text-anchor="middle">%</text>
</g>

<!-- ================= e1 ================= -->
<g transform="translate(78,2113)">
<g transform="scale(21.2,-21.2) translate(-72,-40)">
<g clip-path="url(#m)">
<rect x="72" y="25" width="33" height="15" class="k8"/>
<polygon class="k9" points="72,40 72,26 94.5,26 94.5,29 94.2,30.2 93.8,31.6 95,32.7 96.3,33.3 97.8,33.5 99.8,34.4 101,35.5 101,36.5 101.5,38 101.5,40"/>
<polygon class="k8" points="85,37.2 87,37.8 88.5,37.5 89.5,36.5 89.2,35.5 88,35.3 86.5,35.4 85,36"/>
<polygon class="k8" points="72,36.2 80,36.2 80.7,35.5 80.2,34 80.3,32 80.5,31 72,31"/>
<polygon class="k10" points="79.8,35.5 81,35.3 82.5,35 84,34.8 86,35.0 88,34.9 90,35.2 91.5,36 92,37.5 92.5,40 100,40 100.2,38 100.5,36.6 99.8,35.3 98,34.7 96,34.5 94,34.3 93,33.2 92.5,31.5 92.8,30 93,28.8 93,26 85.5,26 84.5,29 83,29.7 81.5,30.5 80.5,31.5 80.5,33.5"/>
<polygon class="k11" points="81.5,34.3 84,34.2 86,34.3 88,34.1 90,34.3 91.5,34 92,33 91.4,31.5 91.4,30 91.6,28.5 91.5,27.5 86,27.5 85,29 83.5,29.7 82,30.5 81.3,32"/>
<polygon class="k11" points="92.8,40 99.2,40 99.3,37.8 99.3,36.2 98.5,35.3 97,35.2 95.5,35.6 94.3,36.3 93.8,37.5"/>
<polygon class="k12" points="82.8,33.3 85,33.5 87,33.3 89,33.2 90,32.5 90.2,31 90.4,29.5 90.4,28 86.3,28 86,29.2 84.5,30 83.3,31 82.8,32.3"/>
<polygon class="k12" points="93.3,40 97.5,40 97.6,38 98,36.5 97.8,35.6 96.5,35.5 95.7,36 95,36.8 94.5,37.8"/>
<polygon class="k7" points="95,33 96.2,32.5 97.5,32.2 98.5,31.2 99,30 98.5,29.4 97,29.2 96,29.7 95.5,31"/>
<polygon class="k7" points="98.8,29.5 100,29.6 100.5,28.5 100.2,27 99,27"/>
<rect x="75" y="37" width="1" height="1" class="k4"/>
<rect x="77" y="36" width="1" height="1" class="k6"/>
<rect x="72" y="25" width="33" height="15" fill="url(#dots)"/>
</g>
<use xlink:href="#ol" href="#ol"/>
</g>
<use xlink:href="#ax" href="#ax"/>
<text class="t" x="0" y="-14">(e1)</text>
<text class="t" x="350" y="-9" text-anchor="middle">SON-AMME</text>
<text class="t" text-anchor="end"><tspan x="-19" y="8.5">40</tspan><tspan class="s" dy="-10">o</tspan><tspan dy="10">N</tspan></text>
<text class="t" text-anchor="end"><tspan x="-19" y="114.5">35</tspan><tspan class="s" dy="-10">o</tspan><tspan dy="10">N</tspan></text>
<text class="t" text-anchor="end"><tspan x="-19" y="220.5">30</tspan><tspan class="s" dy="-10">o</tspan><tspan dy="10">N</tspan></text>
<text class="t" text-anchor="end"><tspan x="-19" y="326.5">25</tspan><tspan class="s" dy="-10">o</tspan><tspan dy="10">N</tspan></text>
<text class="t" text-anchor="middle"><tspan x="169.6" y="355">80</tspan><tspan class="s" dy="-10">o</tspan><tspan dy="10">E</tspan></text>
<text class="t" text-anchor="middle"><tspan x="381.6" y="355">90</tspan><tspan class="s" dy="-10">o</tspan><tspan dy="10">E</tspan></text>
<text class="t" text-anchor="middle"><tspan x="593.6" y="355">100</tspan><tspan class="s" dy="-10">o</tspan><tspan dy="10">E</tspan></text>
<text class="t" y="458" text-anchor="middle"><tspan x="87.75">-10</tspan><tspan x="135.5">-5</tspan><tspan x="183.25">0</tspan><tspan x="231">5</tspan><tspan x="278.75">10</tspan><tspan x="326.5">15</tspan><tspan x="374.25">20</tspan><tspan x="422">25</tspan><tspan x="469.75">30</tspan><tspan x="517.5">35</tspan><tspan x="565.25">40</tspan></text>
<text class="t" x="638" y="439" text-anchor="middle">%</text>
</g>

<!-- ================= e2 ================= -->
<g transform="translate(880,2116)">
<g transform="scale(21.2,-21.2) translate(-72,-40)">
<g clip-path="url(#m)">
<rect x="72" y="25" width="33" height="15" class="k8"/>
<polygon class="k7" points="82.5,34.8 85,35.2 88,35.4 91,35.2 93,35.4 96,35.5 98.5,35.2 101,35 103.5,34.8 105,34.5 105,32.2 102,32.3 100,32 98,32.2 96,32.2 94,32.5 91.5,32.3 89,32.6 86,33.2 83.5,33.8"/>
<polygon class="k7" points="93.5,31.2 96.5,31 97.5,30 97,29 95.5,29.3 94,29.8"/>
<polygon class="k6" points="84,34.5 86.5,34.7 88,34.3 87,33.7 84.8,33.8"/>
<polygon class="k6" points="97.3,32.1 97.9,32.6 98.5,32.1 97.9,31.6"/>
<polygon class="k6" points="103.2,34 105,34 105,32.5 103.2,33"/>
<polygon class="k9" points="85,40 100,40 100.5,38 101,37.3 100,36.2 98.5,35.8 96,35.5 93,35.7 90,36.2 87.5,36.5 85,36.5"/>
<polygon class="k9" points="72,36.5 80.5,36.5 80.5,35 80,33.5 80.3,31.5 80.8,30.8 72,30.8"/>
<polygon class="k9" points="80.5,33.2 82,32.8 84,32.5 86,31.8 88,31 89.3,29.8 89.5,28.5 89.5,27 85,27 84,28.5 82.5,29.5 81,30.5 80.3,31.5"/>
<polygon class="k9" points="99,30.7 100.5,30.8 101.3,30 101,28.5 100.5,27 99,27 99.2,29"/>
<polygon class="k10" points="87,40 99.5,40 99.6,38.3 99.2,37.2 98,36.4 96,36.1 94,36.2 92,36.6 89.5,37.0 87,37.2"/>
<polygon class="k10" points="79,36.2 83,36.2 82.5,35.5 80.5,34.8 79,34.5"/>
<polygon class="k10" points="80.5,32.5 82.5,32 84.5,31.5 86.5,30.8 88,29.8 88.8,28.5 88.8,27.5 85.5,27.5 84.5,28.5 82.8,29.5 81.3,30.5"/>
<polygon class="k11" points="89,40 99,40 99.1,38.3 98.7,37.3 97.5,36.6 96,36.5 94,36.6 92,37.3 90,37.8 89,38.2"/>
<polygon class="k11" points="80.3,36 82.5,36 82.8,35.5 81.8,35.1 80.5,35.1"/>
<polygon class="k11" points="81.5,32.2 83,31.8 85,31.1 86.8,30.1 87.8,29 88,27.8 86,27.8 84.5,28.8 83,29.6 81.8,30.8"/>
<polygon class="k12" points="92,40 98,40 97.8,38.5 97.5,37.2 96.5,36.5 95,36.6 94,37.1 93,37.8 92.2,38.5"/>
<polygon class="k12" points="82.8,31.8 84.3,31.6 86,30.7 87.2,29.8 87,29.3 85.5,29.6 84,30.2 83,30.8"/>
<rect x="75" y="37" width="0.5" height="1" class="k2"/>
<rect x="75.5" y="37" width="0.5" height="1" class="k3"/>
<rect x="75" y="37" width="1" height="0.2" class="k4"/>
<rect x="77" y="36" width="1" height="1" class="k6"/>
<rect x="72" y="25" width="33" height="15" fill="url(#dots)"/>
</g>
<use xlink:href="#ol" href="#ol"/>
</g>
<use xlink:href="#ax" href="#ax"/>
<text class="t" x="0" y="-14">(e2)</text>
<text class="t" x="350" y="-9" text-anchor="middle">SON-BMME</text>
<text class="t" text-anchor="end"><tspan x="-19" y="8.5">40</tspan><tspan class="s" dy="-10">o</tspan><tspan dy="10">N</tspan></text>
<text class="t" text-anchor="end"><tspan x="-19" y="114.5">35</tspan><tspan class="s" dy="-10">o</tspan><tspan dy="10">N</tspan></text>
<text class="t" text-anchor="end"><tspan x="-19" y="220.5">30</tspan><tspan class="s" dy="-10">o</tspan><tspan dy="10">N</tspan></text>
<text class="t" text-anchor="end"><tspan x="-19" y="326.5">25</tspan><tspan class="s" dy="-10">o</tspan><tspan dy="10">N</tspan></text>
<text class="t" text-anchor="middle"><tspan x="169.6" y="355">80</tspan><tspan class="s" dy="-10">o</tspan><tspan dy="10">E</tspan></text>
<text class="t" text-anchor="middle"><tspan x="381.6" y="355">90</tspan><tspan class="s" dy="-10">o</tspan><tspan dy="10">E</tspan></text>
<text class="t" text-anchor="middle"><tspan x="593.6" y="355">100</tspan><tspan class="s" dy="-10">o</tspan><tspan dy="10">E</tspan></text>
<text class="t" y="458" text-anchor="middle"><tspan x="87.75">-10</tspan><tspan x="135.5">-5</tspan><tspan x="183.25">0</tspan><tspan x="231">5</tspan><tspan x="278.75">10</tspan><tspan x="326.5">15</tspan><tspan x="374.25">20</tspan><tspan x="422">25</tspan><tspan x="469.75">30</tspan><tspan x="517.5">35</tspan><tspan x="565.25">40</tspan></text>
<text class="t" x="638" y="439" text-anchor="middle">%</text>
</g>
</svg>
</body></html>
